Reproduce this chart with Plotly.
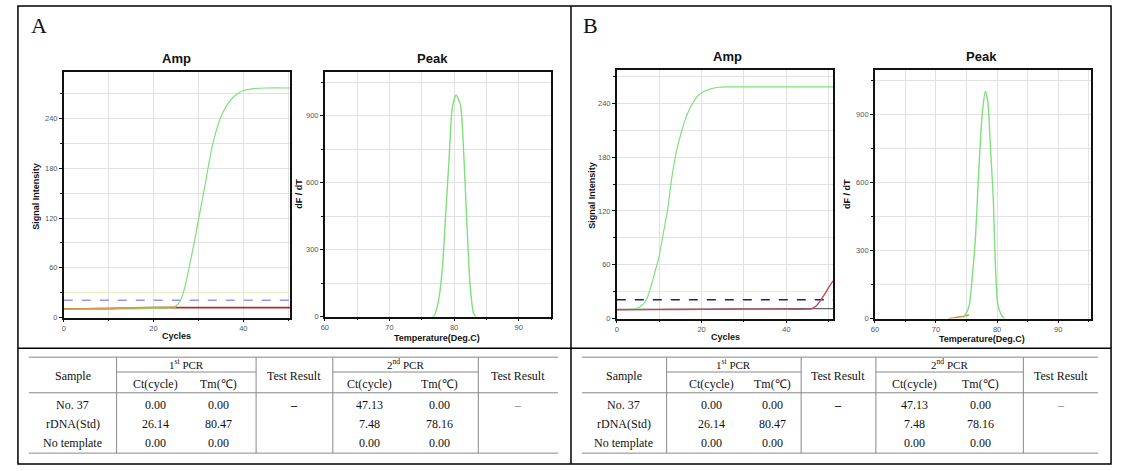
import plotly.graph_objects as go

W, H = 1123, 471

# ---------------- data ----------------
# Panel A amplification (cycles vs signal intensity)
a_cycles_green = [0, 5, 10, 15, 20, 24, 25, 26, 27, 28, 29, 30, 31, 32, 33, 34, 35, 36, 37, 38, 39, 40, 42, 45, 50.4]
a_signal_green = [10, 10, 10.3, 10.6, 11, 12, 14, 21, 37, 62, 89, 118, 146, 176, 205, 226, 242, 253, 261, 267, 271, 274, 276, 277, 277]
a_cycles_red = [0, 5, 10, 15, 20, 25, 30, 40, 50.4]
a_signal_red = [10.4, 10.6, 11.0, 11.5, 12.0, 12.0, 12.0, 12.0, 12.0]
a_cycles_orange = [0, 5, 10, 15, 20, 25]
a_signal_orange = [10.2, 10.5, 11.0, 11.8, 12.2, 12.4]
a_threshold = 21

# Panel A melting peak
a_temp_peak = [76.6, 76.9, 77.6, 78.2, 78.7, 79.2, 79.7, 80.3, 81.0, 81.5, 82.0, 82.5, 83.0, 83.4]
a_dfdt_peak = [0, 3, 74, 222, 458, 695, 931, 993, 946, 724, 399, 133, 15, 0]

# Panel B amplification
b_cycles_green = [0, 3, 4, 5, 6, 7, 8, 9, 10, 11, 12, 13, 14, 15, 16, 17, 18, 19, 20, 22, 24, 26, 30, 40, 51]
b_signal_green = [10, 10, 10.5, 12, 15, 21, 35, 52, 70, 96, 122, 158, 185, 204, 220, 232, 241, 248, 252, 256, 258, 258.5, 258.5, 258.5, 258.5]
b_cycles_red = [0, 10, 20, 30, 40, 45, 46, 47, 48, 49, 50, 51]
b_signal_red = [9.8, 10.0, 10.3, 10.5, 10.5, 10.5, 11, 14, 20, 27, 35, 42]
b_cycles_gray = [0, 20, 40, 51]
b_signal_gray = [10.2, 10.6, 11.0, 11.2]
b_threshold = 21

# Panel B melting peak
b_temp_peak = [74.4, 74.7, 75.4, 75.9, 76.5, 77.0, 77.6, 78.1, 78.5, 78.9, 79.4, 79.7, 80.1, 80.7, 81.2]
b_dfdt_peak = [5, 12, 52, 169, 373, 650, 912, 1003, 955, 766, 519, 256, 67, 16, 0]
b_temp_small = [72.0, 73.0, 74.0, 74.8, 75.4]
b_dfdt_small = [0, 4, 8, 12, 16]

# Table content
tbl_samples = ["No. 37", "rDNA(Std)", "No template"]
tbl_pcr1_ct = ["0.00", "26.14", "0.00"]
tbl_pcr1_tm = ["0.00", "80.47", "0.00"]
tbl_result1 = ["–", "", ""]
tbl_pcr2_ct = ["47.13", "7.48", "0.00"]
tbl_pcr2_tm = ["0.00", "78.16", "0.00"]
tbl_result2 = ["–", "", ""]

# ---------------- helpers ----------------
def fx(px):
    return px / W

def fy(py):
    return 1 - py / H

fig = go.Figure()

GREEN = "#7ee07e"
TICKFONT = dict(family="Liberation Sans, Arial", size=7.5, color="#555555")

def add_axes(n, x0, x1, y0, y1, xr, yr, xd, xm, yd, ym):
    xa = "xaxis" if n == 1 else f"xaxis{n}"
    ya = "yaxis" if n == 1 else f"yaxis{n}"
    yref = "y" if n == 1 else f"y{n}"
    xref = "x" if n == 1 else f"x{n}"
    common = dict(showline=True, linecolor="#111111", linewidth=1.6, mirror=True,
                  ticks="outside", ticklen=3, tickcolor="#111111", tickwidth=1,
                  showgrid=True, gridcolor="#e2e2e2", gridwidth=1,
                  zeroline=False, tickfont=TICKFONT, fixedrange=True)
    fig.update_layout(**{
        xa: dict(domain=[fx(x0), fx(x1)], range=xr, anchor=yref, dtick=xd, tick0=0,
                 minor=dict(dtick=xm, showgrid=True, gridcolor="#e2e2e2", ticks="outside", ticklen=2, tickcolor="#111111"),
                 **common),
        ya: dict(domain=[fy(y1), fy(y0)], range=yr, anchor=xref, dtick=yd, tick0=0,
                 minor=dict(dtick=ym, showgrid=True, gridcolor="#e2e2e2", ticks="outside", ticklen=2, tickcolor="#111111"),
                 **common),
    })
    return xref, yref

# Axes (pixel boxes)
xA1, yA1 = add_axes(1, 60, 287, 73, 321, [0, 50.4], [0, 296], 20, 10, 60, 30)
xA2, yA2 = add_axes(2, 322, 549, 73, 320, [60, 95], [0, 1095], 10, 5, 300, 150)
xB1, yB1 = add_axes(3, 615, 832, 71, 322, [0, 51], [0, 277], 20, 10, 60, 30)
xB2, yB2 = add_axes(4, 874, 1091, 71, 322, [60, 95.4], [0, 1097], 10, 5, 300, 150)

def line(x, y, xr, yr, color, width=1.2, dash=None, shape="spline"):
    fig.add_trace(go.Scatter(x=x, y=y, xaxis=xr, yaxis=yr, mode="lines",
                             line=dict(color=color, width=width, dash=dash, shape=shape, smoothing=0.6),
                             showlegend=False, hoverinfo="skip"))

# pale yellow reference line at 30 on amp plots
line([0, 50.4], [30, 30], xA1, yA1, "#f3efc8", 1, shape="linear")
line([0, 51], [30, 30], xB1, yB1, "#f3efc8", 1, shape="linear")

# Panel A amp
line([0, 50.4], [a_threshold, a_threshold], xA1, yA1, "#6a5fd6", 1, dash="dash", shape="linear")
line(a_cycles_red, a_signal_red, xA1, yA1, "#b22a2a", 1.6)
line(a_cycles_green, a_signal_green, xA1, yA1, GREEN, 1.2)
line(a_cycles_orange, a_signal_orange, xA1, yA1, "#d89a45", 1.6)

# Panel A peak
line(a_temp_peak, a_dfdt_peak, xA2, yA2, GREEN, 1.4)

# Panel B amp
line([0, 51], [b_threshold, b_threshold], xB1, yB1, "#1f1f7a", 1.4, dash="dash", shape="linear")
line(b_cycles_gray, b_signal_gray, xB1, yB1, "#666666", 1.2)
line(b_cycles_green, b_signal_green, xB1, yB1, GREEN, 1.2)
line(b_cycles_red, b_signal_red, xB1, yB1, "#c04a5e", 1.4)

# Panel B peak
line(b_temp_small, b_dfdt_small, xB2, yB2, "#d88a3a", 1.4)
line(b_temp_peak, b_dfdt_peak, xB2, yB2, GREEN, 1.4)

ann = []
shapes = []

def text(px, py, s, size=12, family="Liberation Serif, Times New Roman", color="#111111", xanchor="center", angle=0):
    ann.append(dict(x=fx(px), y=fy(py), xref="paper", yref="paper", text=s, showarrow=False,
                    font=dict(family=family, size=size, color=color), xanchor=xanchor, yanchor="middle",
                    textangle=angle))

def hline(x0, x1, py, color="#888888", width=1):
    shapes.append(dict(type="line", xref="paper", yref="paper", x0=fx(x0), x1=fx(x1), y0=fy(py), y1=fy(py),
                       line=dict(color=color, width=width)))

def vline(px, y0, y1, color="#888888", width=1):
    shapes.append(dict(type="line", xref="paper", yref="paper", x0=fx(px), x1=fx(px), y0=fy(y0), y1=fy(y1),
                       line=dict(color=color, width=width)))

# Panel frames
shapes.append(dict(type="rect", xref="paper", yref="paper", x0=fx(14), x1=fx(1111), y0=fy(469), y1=fy(6),
                   line=dict(color="#000000", width=1.5)))
vline(569, 6, 469, "#000000", 1.5)
hline(14, 1111, 352, "#000000", 1.5)

# Panel letters
text(35, 26, "A", size=22, xanchor="center")
text(589, 26, "B", size=22, xanchor="center")

SANS = "Liberation Sans, Arial"
# Plot titles and axis titles
for (cx, ty, t) in [(173, 59, "Amp"), (430, 59, "Peak"), (726, 57, "Amp"), (981, 57, "Peak")]:
    text(cx, ty, f"<b>{t}</b>", size=13, family=SANS)
text(173, 340, "<b>Cycles</b>", size=9, family=SANS)
text(435, 342, "<b>Temperature(Deg.C)</b>", size=9, family=SANS)
text(724, 341, "<b>Cycles</b>", size=9, family=SANS)
text(981, 343, "<b>Temperature(Deg.C)</b>", size=9, family=SANS)
text(32, 198, "<b>Signal Intensity</b>", size=9, family=SANS, angle=-90)
text(296, 196, "<b>dF / dT</b>", size=9, family=SANS, angle=-90)
text(590, 197, "<b>Signal Intensity</b>", size=9, family=SANS, angle=-90)
text(846, 196, "<b>dF / dT</b>", size=9, family=SANS, angle=-90)

# Tables
def table(edges, centers, pcr_centers):
    left, v1, v2, v3, v4, right = edges
    top, sub, hdr, bottom = 361, 376, 397, 458
    hline(left, right, top)
    hline(v1, v2, sub)
    hline(v3, v4, sub)
    hline(left, right, hdr)
    hline(left, right, bottom)
    for v in (v1, v2, v3, v4):
        vline(v, top, bottom)
    c_s, c_ct1, c_tm1, c_r1, c_ct2, c_tm2, c_r2 = centers
    text(c_s, 380, "Sample")
    text(pcr_centers[0], 368, "1<sup>st</sup> PCR", size=11)
    text(pcr_centers[1], 368, "2<sup>nd</sup> PCR", size=11)
    text(c_r1, 380, "Test Result")
    text(c_r2, 380, "Test Result")
    text(c_ct1, 388, "Ct(cycle)")
    text(c_tm1, 388, "Tm(℃)")
    text(c_ct2, 388, "Ct(cycle)")
    text(c_tm2, 388, "Tm(℃)")
    rows_y = [409, 429, 448]
    for i, ry in enumerate(rows_y):
        text(c_s, ry, tbl_samples[i])
        text(c_ct1, ry, tbl_pcr1_ct[i])
        text(c_tm1, ry, tbl_pcr1_tm[i])
        if tbl_result1[i]:
            text(c_r1, ry, f"<b>{tbl_result1[i]}</b>")
        text(c_ct2, ry, tbl_pcr2_ct[i])
        text(c_tm2, ry, tbl_pcr2_tm[i])
        if tbl_result2[i]:
            text(c_r2, ry, tbl_result2[i], color="#777777")

table([25, 113, 253, 330, 476, 556], [69, 152, 215, 291, 367, 437, 516], [183, 403])
table([580, 665, 800, 875, 1023, 1098], [622, 710, 771, 837, 914, 980, 1061], [732, 949])

fig.update_layout(width=W, height=H, margin=dict(l=0, r=0, t=0, b=0),
                  paper_bgcolor="white", plot_bgcolor="white",
                  annotations=ann, shapes=shapes, showlegend=False)

fig.write_html("out.html", config={"displayModeBar": False},
               post_script="document.body.style.margin='0';document.body.style.overflow='hidden';")
